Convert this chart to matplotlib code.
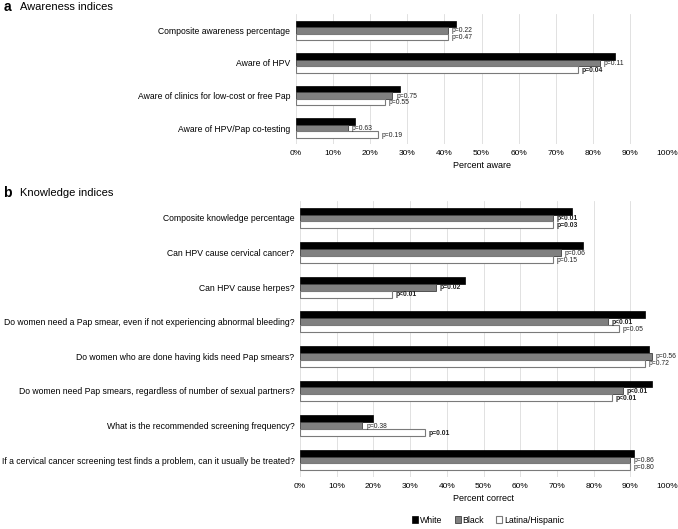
import matplotlib.pyplot as plt
import numpy as np
from matplotlib.patches import Patch

plt.rcParams['font.family'] = ['Liberation Sans', 'DejaVu Sans']

# Panel a - awareness
aware_labels = ["Composite awareness percentage", "Aware of HPV",
                "Aware of clinics for low-cost or free Pap", "Aware of HPV/Pap co-testing"]
aware_white = [43, 86, 28, 16]
aware_black = [41, 82, 26, 14]
aware_latina = [41, 76, 24, 22]
aware_p_black = ["p=0.22", "p=0.11", "p=0.75", "p=0.63"]
aware_p_latina = ["p=0.47", "p=0.04", "p=0.55", "p=0.19"]

# Panel b - knowledge
know_labels = ["Composite knowledge percentage",
               "Can HPV cause cervical cancer?",
               "Can HPV cause herpes?",
               "Do women need a Pap smear, even if not experiencing abnormal bleeding?",
               "Do women who are done having kids need Pap smears?",
               "Do women need Pap smears, regardless of number of sexual partners?",
               "What is the recommended screening frequency?",
               "If a cervical cancer screening test finds a problem, can it usually be treated?"]
know_white = [74, 77, 45, 94, 95, 96, 20, 91]
know_black = [69, 71, 37, 84, 96, 88, 17, 90]
know_latina = [69, 69, 25, 87, 94, 85, 34, 90]
know_p_black = ["p<0.01", "p=0.06", "p=0.02", "p<0.01", "p=0.56", "p<0.01", "p=0.38", "p=0.86"]
know_p_latina = ["p=0.03", "p=0.15", "p<0.01", "p=0.05", "p=0.72", "p<0.01", "p=0.01", "p=0.80"]

groups = ["White", "Black", "Latina/Hispanic"]
ticks = np.arange(0, 101, 10)


def signif(s):
    return s[1] == '<' or float(s[2:]) < 0.05


def panel(ax, labels, w, b, l, pb, pl, xlabel):
    y = np.arange(len(labels))
    h = 0.2
    ax.barh(y - h, w, height=h, color='black', edgecolor='black', linewidth=0.5, zorder=3)
    ax.barh(y, b, height=h, color='#808080', edgecolor='#404040', linewidth=0.6, zorder=3)
    ax.barh(y + h, l, height=h, color='white', edgecolor='#7a7a7a', linewidth=0.8, zorder=3)
    for i in range(len(labels)):
        ax.text(b[i] + 1, y[i] + 0.02, pb[i], fontsize=4.9, va='center', ha='left', color='#222222',
                fontweight='bold' if signif(pb[i]) else 'normal', zorder=4)
        ax.text(l[i] + 1, y[i] + h + 0.02, pl[i], fontsize=4.9, va='center', ha='left', color='#222222',
                fontweight='bold' if signif(pl[i]) else 'normal', zorder=4)
    ax.set_yticks(y)
    ax.set_yticklabels(labels, fontsize=6.2)
    ax.set_ylim(len(labels) - 0.5, -0.5)
    ax.set_xlim(0, 100)
    ax.set_xticks(ticks)
    ax.set_xticklabels([f"{t}%" for t in ticks], fontsize=6)
    ax.set_xlabel(xlabel, fontsize=6.5, labelpad=3)
    ax.xaxis.grid(True, color='#dcdcdc', linewidth=0.6, zorder=0)
    ax.tick_params(axis='both', length=0, pad=4)
    for s in ax.spines.values():
        s.set_visible(False)


fig = plt.figure(figsize=(6.78, 5.29), dpi=100)
ax1 = fig.add_axes([0.4366, 0.727, 0.5472, 0.2465])
ax2 = fig.add_axes([0.4425, 0.0977, 0.5413, 0.5229])

panel(ax1, aware_labels, aware_white, aware_black, aware_latina,
      aware_p_black, aware_p_latina, "Percent aware")
panel(ax2, know_labels, know_white, know_black, know_latina,
      know_p_black, know_p_latina, "Percent correct")

fig.text(0.005, 0.986, "a", fontsize=10, fontweight='bold', va='center')
fig.text(0.03, 0.986, "Awareness indices", fontsize=8, va='center')
fig.text(0.005, 0.635, "b", fontsize=10, fontweight='bold', va='center')
fig.text(0.03, 0.635, "Knowledge indices", fontsize=8, va='center')

handles = [Patch(facecolor='black', edgecolor='black', linewidth=0.5),
           Patch(facecolor='#808080', edgecolor='#404040', linewidth=0.6),
           Patch(facecolor='white', edgecolor='#7a7a7a', linewidth=0.8)]
fig.legend(handles, groups, loc='center', bbox_to_anchor=(0.72, 0.017), ncol=3,
           fontsize=6.3, frameon=False, handlelength=0.7, handleheight=0.7,
           handletextpad=0.2, columnspacing=1.4)

fig.savefig("out.png", dpi=100)
